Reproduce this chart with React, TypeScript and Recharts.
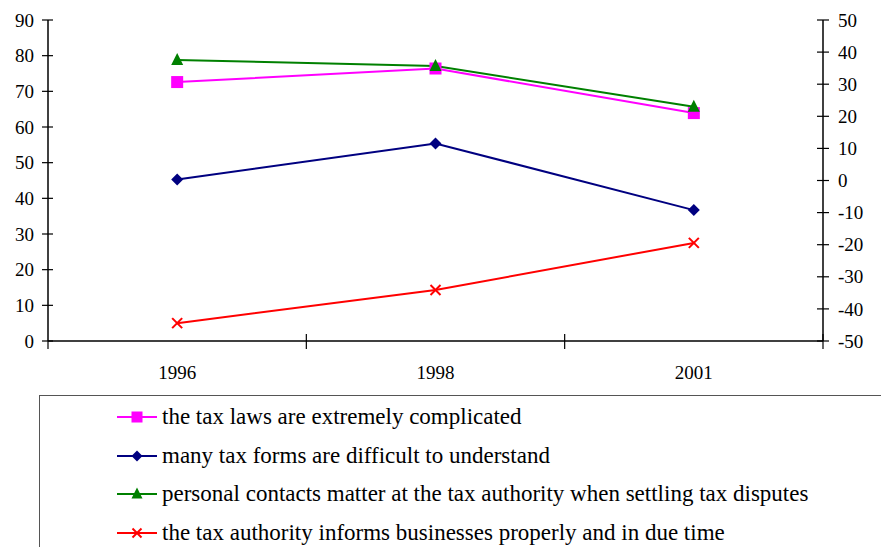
import React from 'react';
import { LineChart, Line, XAxis, YAxis } from 'recharts';

const years = ['1996', '1998', '2001'];
const taxLaws = [72.6, 76.4, 63.9];
const taxForms = [45.3, 55.4, 36.7];
const personalContacts = [78.8, 77.1, 65.7];
const informsProperly = [5.0, 14.3, 27.5];
const leftTicks = [0, 10, 20, 30, 40, 50, 60, 70, 80, 90];
const rightTicks = [-50, -40, -30, -20, -10, 0, 10, 20, 30, 40, 50];

const seriesNames = [
  'the tax laws are extremely complicated',
  'many tax forms are difficult to understand',
  'personal contacts matter at the tax authority when settling tax disputes',
  'the tax authority informs businesses properly and in due time',
];
const seriesColors = ['#FF00FF', '#000080', '#008000', '#FF0000'];
const seriesKeys = ['laws', 'forms', 'contacts', 'informs'];
const seriesShapes = ['square', 'diamond', 'triangle', 'cross'];

const data = years.map((y, i) => ({
  year: y,
  laws: taxLaws[i],
  forms: taxForms[i],
  contacts: personalContacts[i],
  informs: informsProperly[i],
}));

const FONT = "'Liberation Serif', 'Times New Roman', serif";
const W = 881;
const H = 547;
const X_H = 30;
const M = { top: 20, right: 0, bottom: 176, left: 0 };
const LEFT_W = 48;
const RIGHT_W = 58;
const PLOT_W = W - LEFT_W - RIGHT_W;
const BAND = PLOT_W / years.length;
const AXIS_Y = H - M.bottom - X_H;

function Marker({ shape, cx, cy, color, size = 12 }: any) {
  if (cx == null || cy == null) return null;
  const h = size / 2;
  if (shape === 'square') {
    return <rect x={cx - h} y={cy - h} width={size} height={size} fill={color} />;
  }
  if (shape === 'diamond') {
    return <polygon points={`${cx},${cy - h} ${cx + h},${cy} ${cx},${cy + h} ${cx - h},${cy}`} fill={color} />;
  }
  if (shape === 'triangle') {
    return <polygon points={`${cx},${cy - h - 1} ${cx + h},${cy + h - 1} ${cx - h},${cy + h - 1}`} fill={color} />;
  }
  const c = h - 1;
  return (
    <g stroke={color} strokeWidth={2}>
      <line x1={cx - c} y1={cy - c} x2={cx + c} y2={cy + c} />
      <line x1={cx - c} y1={cy + c} x2={cx + c} y2={cy - c} />
    </g>
  );
}

const LeftTick = (props: any) => {
  const { y, payload } = props;
  const ax = LEFT_W;
  return (
    <g>
      <line x1={ax - 6} x2={ax + 5} y1={y} y2={y} stroke="#000" strokeWidth={1.2} />
      <text x={ax - 14} y={y} dy="0.35em" textAnchor="end" style={{ fontFamily: FONT }} fontSize={19} fill="#000">
        {payload.value}
      </text>
    </g>
  );
};

const RightTick = (props: any) => {
  const { y, payload } = props;
  const ax = W - RIGHT_W;
  return (
    <g>
      <line x1={ax - 6} x2={ax + 6} y1={y} y2={y} stroke="#000" strokeWidth={1.2} />
      <text x={ax + 15} y={y} dy="0.35em" textAnchor="start" style={{ fontFamily: FONT }} fontSize={19} fill="#000">
        {payload.value}
      </text>
    </g>
  );
};

const XTick = (props: any) => {
  const { x, payload, index } = props;
  const left = x - BAND / 2;
  const isLast = index === years.length - 1;
  return (
    <g>
      <line x1={left} x2={left} y1={index === 0 ? AXIS_Y : AXIS_Y - 7} y2={AXIS_Y + 8} stroke="#000" strokeWidth={1.2} />
      {isLast && <line x1={x + BAND / 2} x2={x + BAND / 2} y1={AXIS_Y - 7} y2={AXIS_Y + 8} stroke="#000" strokeWidth={1.2} />}
      <text x={x} y={AXIS_Y + 31} dy="0.35em" textAnchor="middle" style={{ fontFamily: FONT }} fontSize={19} fill="#000">
        {payload.value}
      </text>
    </g>
  );
};

const LegendBox = () => (
  <div
    style={{
      position: 'absolute',
      left: 39,
      top: 395,
      width: 900,
      height: 200,
      border: '1.5px solid #555',
      boxSizing: 'border-box',
      fontFamily: FONT,
      fontSize: 23,
      color: '#000',
    }}
  >
    {seriesNames.map((name, i) => (
      <div
        key={name}
        style={{ position: 'absolute', left: 76, top: 21 + i * 38.7 - 13, height: 26, display: 'flex', alignItems: 'center', whiteSpace: 'nowrap' }}
      >
        <svg width={44} height={26} style={{ display: 'block' }}>
          <line x1={1} x2={41} y1={13} y2={13} stroke={seriesColors[i]} strokeWidth={2} />
          <Marker shape={seriesShapes[i]} cx={21} cy={13} color={seriesColors[i]} size={11} />
        </svg>
        <span style={{ marginLeft: 2, lineHeight: '26px' }}>{name}</span>
      </div>
    ))}
  </div>
);

export default function App() {
  return (
    <div style={{ position: 'absolute', left: 0, top: 0, width: W, height: H, background: '#fff', overflow: 'hidden' }}>
      <LineChart width={W} height={H} data={data} margin={M}>
        <XAxis
          dataKey="year"
          scale="band"
          axisLine={{ stroke: '#000', strokeWidth: 1.5 }}
          tickLine={false}
          tick={<XTick />}
          height={X_H}
          interval={0}
        />
        <YAxis
          yAxisId="left"
          domain={[0, 90]}
          ticks={leftTicks}
          width={LEFT_W}
          axisLine={{ stroke: '#000', strokeWidth: 1.5 }}
          tickLine={false}
          tick={<LeftTick />}
          interval={0}
          allowDataOverflow
        />
        <YAxis
          yAxisId="right"
          orientation="right"
          domain={[-50, 50]}
          ticks={rightTicks}
          width={RIGHT_W}
          axisLine={{ stroke: '#000', strokeWidth: 1.5 }}
          tickLine={false}
          tick={<RightTick />}
          interval={0}
          allowDataOverflow
        />
        {seriesKeys.map((k, i) => (
          <Line
            key={k}
            yAxisId="left"
            dataKey={k}
            name={seriesNames[i]}
            stroke={seriesColors[i]}
            strokeWidth={2}
            isAnimationActive={false}
            dot={(p: any) => <Marker key={`${k}-${p.index}`} shape={seriesShapes[i]} cx={p.cx} cy={p.cy} color={seriesColors[i]} />}
            activeDot={false}
          />
        ))}
        <Line
          yAxisId="right"
          dataKey="none"
          stroke="none"
          dot={false}
          legendType="none"
          isAnimationActive={false}
        />
      </LineChart>
      <LegendBox />
    </div>
  );
}
